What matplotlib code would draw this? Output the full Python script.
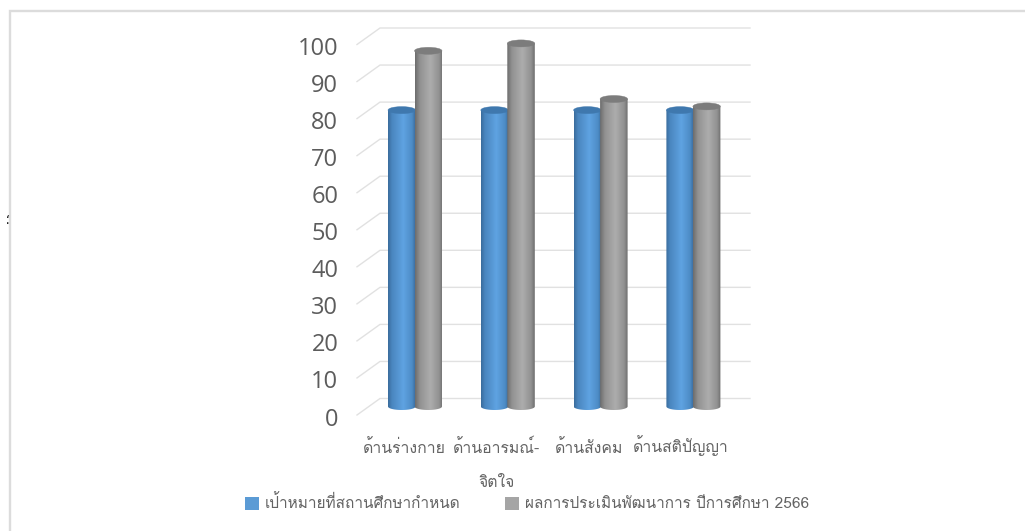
import numpy as np
import matplotlib
matplotlib.use('Agg')
import matplotlib.pyplot as plt
from matplotlib.colors import LinearSegmentedColormap
from matplotlib.patches import Ellipse, PathPatch, Patch
from matplotlib.path import Path
from matplotlib.lines import Line2D
from matplotlib.transforms import ScaledTranslation

categories = ['ด้านร่างกาย', 'ด้านอารมณ์-\nจิตใจ', 'ด้านสังคม', 'ด้านสติปัญญา']
target_values = [80, 80, 80, 80]
result_values = [96, 98, 83, 81]
y_ticks = [0, 10, 20, 30, 40, 50, 60, 70, 80, 90, 100]
series_names = ['เป้าหมายที่สถานศึกษากำหนด', 'ผลการประเมินพัฒนาการ ปีการศึกษา 2566']

W, H = 1025, 531
THAI = ['Loma', 'Noto Sans Thai', 'DejaVu Sans']
TXT = '#646464'
GRID = '#e1e1e1'
fig = plt.figure(figsize=(W / 100, H / 100), dpi=100)
ax = fig.add_axes([380 / W, 1 - 398.5 / H, 370 / W, 370.5 / H])
ax.set_xlim(0, 4)
ax.set_ylim(0, 100)
for s in ax.spines.values():
    s.set_visible(False)
ax.patch.set_alpha(0)

PX_X = 370 / 4
PX_Y = 370.5 / 100
wall_dx = -23 / PX_X
wall_dy = -16.5 / PX_Y
for v in y_ticks:
    ax.plot([wall_dx, 0, 4], [v + wall_dy, v, v], color=GRID, lw=1.0, clip_on=False,
            zorder=1, solid_joinstyle='miter')

ax.set_yticks(y_ticks)
ax.set_yticklabels([str(v) for v in y_ticks], fontsize=17, family='Open Sans', color='#5c5c5c')
ax.tick_params(axis='y', length=0, pad=30)
shift = ScaledTranslation(0, -18 / 100, fig.dpi_scale_trans)
for t in ax.yaxis.get_major_ticks():
    t.label1.set_transform(t.label1.get_transform() + shift)

xt = np.arange(4) + 24.5 / PX_X
ax.set_xticks(xt)
ax.set_xticklabels(categories, fontsize=11.4, family=THAI, color=TXT, linespacing=2.75)
ax.tick_params(axis='x', length=0, pad=29.2)
lab4 = ax.xaxis.get_major_ticks()[3].label1
lab4.set_transform(lab4.get_transform() + ScaledTranslation(-1 / 100, 4 / 100, fig.dpi_scale_trans))

blue = LinearSegmentedColormap.from_list('b', [(0, '#3a6c9c'), (.14, '#4a86bf'), (.55, '#5fa3e2'),
                                                (.86, '#4d8cc6'), (1, '#38689a')])
gray = LinearSegmentedColormap.from_list('g', [(0, '#6c6c6c'), (.18, '#929292'), (.55, '#adadad'),
                                                (.86, '#929292'), (1, '#6e6e6e')])
grad = np.linspace(0, 1, 128).reshape(1, -1)

bw = 27.5 / PX_X
eh = 7.0 / PX_Y
base = -8.0 / PX_Y


def cylinder(x0, value, cmap, top, z):
    th = np.linspace(np.pi, 2 * np.pi, 40)
    bx = x0 + bw / 2 + bw / 2 * np.cos(th)
    by = base + eh / 2 * np.sin(th)
    verts = np.vstack([[x0, value], np.column_stack([bx, by]), [x0 + bw, value], [x0, value]])
    clip = PathPatch(Path(verts), transform=ax.transData, fc='none', ec='none')
    ax.add_patch(clip)
    clip.set_clip_on(False)
    im = ax.imshow(grad, cmap=cmap, extent=[x0, x0 + bw, base - eh, value], aspect='auto',
                   zorder=z, interpolation='bilinear')
    im.set_clip_box(fig.bbox)
    im.set_clip_path(clip)
    e = Ellipse((x0 + bw / 2, value), bw, eh, fc=top, ec=top, lw=0.3, zorder=z + .1, clip_on=False)
    ax.add_patch(e)


for i, (a, b) in enumerate(zip(target_values, result_values)):
    left = i + (388 - 380) / PX_X + i * 0.3 / PX_X
    cylinder(left, a + base, blue, '#3f78ae', 3 + i)
    cylinder(left + 26.5 / PX_X, b + base, gray, '#7c7c7c', 3.5 + i)
ax.set_xlim(0, 4)
ax.set_ylim(0, 100)

handles = [Patch(fc='#5b9bd5', ec='none'), Patch(fc='#a5a5a5', ec='none')]
leg = fig.legend(handles, series_names, loc='center left', bbox_to_anchor=(231 / W, 1 - 503 / H),
                 ncol=2, frameon=False, handlelength=0.9, handleheight=0.9, handletextpad=0.39,
                 columnspacing=2.9, borderpad=0.4,
                 prop={'family': THAI, 'size': 11.05}, labelcolor=TXT)

fig.add_artist(Line2D([1, 10 / W, 10 / W], [1 - 11 / H, 1 - 11 / H, 0], color='#dcdcdc', lw=1.7,
                      transform=fig.transFigure, solid_joinstyle='miter'))
fig.text(6 / W, 1 - 219 / H, ';', rotation=180, fontsize=10, color='#222222', ha='center', va='center',
         family='DejaVu Sans')

fig.savefig('out.png', dpi=100)
